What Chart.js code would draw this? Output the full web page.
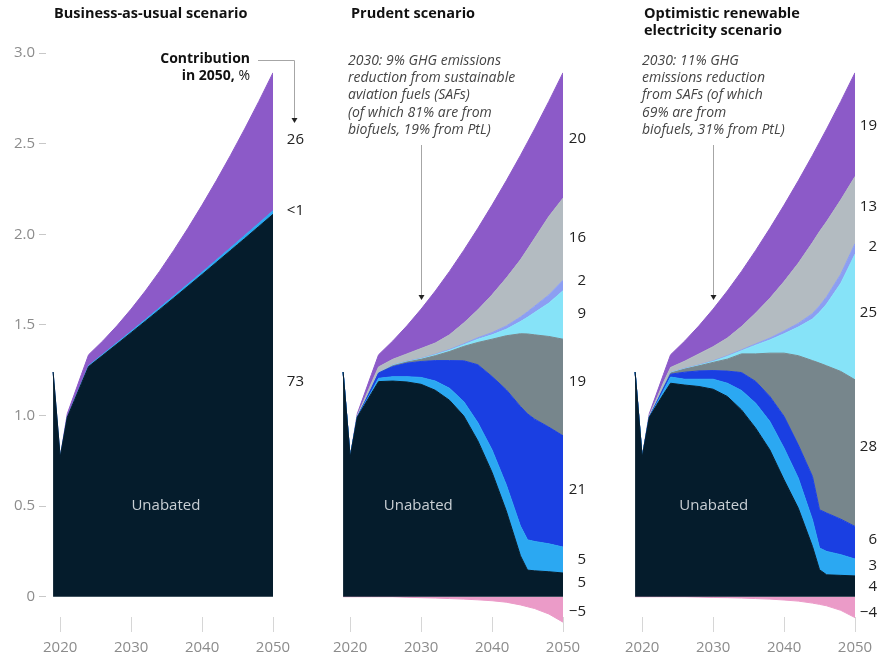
<!DOCTYPE html>
<html>
<head>
<meta charset="utf-8">
<script src="https://cdn.jsdelivr.net/npm/chart.js@4.4.1/dist/chart.umd.min.js"></script>
<style>
  html, body { margin: 0; padding: 0; background: #fff; }
  body { width: 888px; height: 656px; position: relative; overflow: hidden; font-family: "Open Sans", sans-serif; color: #111; }
  canvas { position: absolute; top: 0; }
  .title { position: absolute; top: 4px; font-weight: 700; font-size: 14.5px; line-height: 17px; white-space: nowrap; z-index: 2; }
  .note { position: absolute; top: 51px; font-style: italic; font-size: 14px; line-height: 17.2px; color: #444; white-space: nowrap; z-index: 2; }
  .contrib { position: absolute; top: 49px; right: 638px; text-align: right; font-size: 14px; line-height: 17px; white-space: nowrap; z-index: 2; }
</style>
</head>
<body>
<canvas id="c1" width="310" height="656" style="left:0"></canvas>
<canvas id="c2" width="290" height="656" style="left:310px"></canvas>
<canvas id="c3" width="288" height="656" style="left:600px"></canvas>

<div class="title" style="left:54px">Business-as-usual scenario</div>
<div class="title" style="left:351px">Prudent scenario</div>
<div class="title" style="left:644px">Optimistic renewable<br>electricity scenario</div>
<div class="contrib"><b>Contribution</b><br><b>in 2050,</b> %</div>
<div class="note" style="left:348px">2030: 9% GHG emissions<br>reduction from sustainable<br>aviation fuels (SAFs)<br>(of which 81% are from<br>biofuels, 19% from PtL)</div>
<div class="note" style="left:642px">2030: 11% GHG<br>emissions reduction<br>from SAFs (of which<br>69% are from<br>biofuels, 31% from PtL)</div>

<script>
// years and axis ticks
var years = [2019, 2020, 2021, 2022, 2023, 2024, 2026, 2028, 2030, 2032, 2034, 2036, 2038, 2040, 2042, 2044, 2045, 2046, 2048, 2050];
var xTicks = [2020, 2030, 2040, 2050];
var yTicks = [0, 0.5, 1, 1.5, 2, 2.5, 3];

// business-as-usual, layers bottom to top
var bauUnabated  = [1.24, 0.77, 0.99, 1.083, 1.177, 1.27, 1.332, 1.394, 1.457, 1.52, 1.584, 1.648, 1.713, 1.778, 1.844, 1.91, 1.943, 1.976, 2.043, 2.11];
var bauLightBlue = [0, 0, 0, 0.002, 0.003, 0.005, 0.006, 0.007, 0.008, 0.009, 0.01, 0.011, 0.012, 0.013, 0.014, 0.015, 0.016, 0.017, 0.018, 0.02];
var bauPurple    = [0, 0, 0.02, 0.033, 0.047, 0.06, 0.073, 0.094, 0.122, 0.158, 0.201, 0.252, 0.308, 0.37, 0.437, 0.51, 0.549, 0.588, 0.672, 0.761];
var bauLabels    = ['73', '<1', '26'];

// prudent
var prUnabated   = [1.24, 0.77, 0.99, 1.057, 1.123, 1.187, 1.19, 1.185, 1.172, 1.139, 1.084, 0.998, 0.86, 0.686, 0.474, 0.226, 0.147, 0.143, 0.138, 0.131];
var prLightBlue  = [0, 0, 0, 0.005, 0.01, 0.018, 0.024, 0.029, 0.038, 0.051, 0.066, 0.079, 0.10, 0.124, 0.144, 0.164, 0.167, 0.162, 0.154, 0.143];
var prRoyalBlue  = [0, 0, 0.002, 0.008, 0.017, 0.029, 0.056, 0.075, 0.088, 0.113, 0.153, 0.225, 0.32, 0.405, 0.524, 0.66, 0.695, 0.675, 0.644, 0.614];
var prSlate      = [0, 0, 0, 0, 0, 0, 0.005, 0.006, 0.012, 0.027, 0.05, 0.079, 0.123, 0.206, 0.298, 0.401, 0.441, 0.465, 0.50, 0.533];
var prCyan       = [0, 0, 0, 0, 0, 0.001, 0.002, 0.002, 0.003, 0.005, 0.007, 0.009, 0.018, 0.024, 0.036, 0.067, 0.092, 0.123, 0.184, 0.267];
var prPeriwinkle = [0, 0, 0, 0, 0, 0.001, 0.001, 0.002, 0.002, 0.003, 0.004, 0.005, 0.008, 0.012, 0.018, 0.025, 0.03, 0.035, 0.045, 0.058];
var prGrey       = [0, 0, 0.008, 0.02, 0.03, 0.032, 0.032, 0.041, 0.055, 0.062, 0.081, 0.115, 0.154, 0.209, 0.264, 0.316, 0.346, 0.375, 0.433, 0.453];
var prPurple     = [0, 0, 0.01, 0.028, 0.047, 0.067, 0.101, 0.155, 0.217, 0.287, 0.35, 0.401, 0.45, 0.495, 0.537, 0.576, 0.59, 0.603, 0.635, 0.692];
var prPink       = [0, 0, 0, 0, 0, 0, 0, -0.003, -0.005, -0.007, -0.01, -0.013, -0.017, -0.022, -0.03, -0.045, -0.055, -0.065, -0.095, -0.14];
var prLabels     = ['5', '5', '21', '19', '9', '2', '16', '20', '\u22125'];

// optimistic renewable electricity
var opUnabated   = [1.24, 0.77, 0.99, 1.055, 1.118, 1.178, 1.168, 1.16, 1.145, 1.105, 1.031, 0.93, 0.81, 0.645, 0.489, 0.278, 0.149, 0.121, 0.118, 0.115];
var opLightBlue  = [0, 0, 0, 0.007, 0.019, 0.034, 0.032, 0.04, 0.055, 0.073, 0.107, 0.138, 0.157, 0.175, 0.166, 0.147, 0.12, 0.129, 0.114, 0.093];
var opRoyalBlue  = [0, 0, 0.002, 0.008, 0.013, 0.016, 0.039, 0.046, 0.048, 0.067, 0.099, 0.12, 0.138, 0.175, 0.183, 0.239, 0.211, 0.212, 0.196, 0.18];
var opSlate      = [0, 0, 0, 0, 0.002, 0.006, 0.017, 0.028, 0.045, 0.066, 0.103, 0.152, 0.239, 0.349, 0.492, 0.639, 0.809, 0.812, 0.815, 0.809];
var opCyan       = [0, 0, 0, 0, 0, 0.002, 0.002, 0.003, 0.005, 0.015, 0.017, 0.048, 0.073, 0.107, 0.158, 0.229, 0.281, 0.341, 0.487, 0.693];
var opPeriwinkle = [0, 0, 0, 0, 0, 0.001, 0.002, 0.002, 0.003, 0.004, 0.005, 0.007, 0.01, 0.015, 0.02, 0.03, 0.035, 0.04, 0.05, 0.058];
var opGrey       = [0, 0, 0.008, 0.02, 0.03, 0.028, 0.04, 0.061, 0.079, 0.097, 0.129, 0.17, 0.22, 0.273, 0.332, 0.392, 0.41, 0.415, 0.41, 0.37];
var opPurple     = [0, 0, 0.01, 0.028, 0.045, 0.07, 0.111, 0.155, 0.207, 0.26, 0.304, 0.346, 0.386, 0.422, 0.455, 0.481, 0.493, 0.511, 0.543, 0.573];
var opPink       = [0, 0, 0, 0, 0, 0, 0, -0.002, -0.004, -0.005, -0.007, -0.01, -0.013, -0.018, -0.024, -0.035, -0.042, -0.05, -0.075, -0.115];
var opLabels     = ['4', '3', '6', '28', '25', '2', '13', '19', '\u22124'];

var col = {
  unabated: '#051c2c', lightBlue: '#2ba8f2', royalBlue: '#1a3fe2', slate: '#77868c',
  cyan: '#86e3f8', periwinkle: '#8c9ef2', grey: '#b3bbc1', purple: '#8c5ac8', pink: '#eb9bc8'
};

Chart.defaults.font.family = '"Open Sans", sans-serif';

var panels = [
  { id: 'c1', yAxis: true, pad: { left: 0, right: 37, top: 53, bottom: 0 },
    layers: [[bauUnabated, col.unabated], [bauLightBlue, col.lightBlue], [bauPurple, col.purple]],
    neg: null, labels: bauLabels, nudge: [-24, -2, -2], labelGap: 31, unabatedAt: 2034.9, contrib: true },
  { id: 'c2', yAxis: false, pad: { left: 26, right: 37, top: 53, bottom: 0 },
    layers: [[prUnabated, col.unabated], [prLightBlue, col.lightBlue], [prRoyalBlue, col.royalBlue], [prSlate, col.slate],
             [prCyan, col.cyan], [prPeriwinkle, col.periwinkle], [prGrey, col.grey], [prPurple, col.purple]],
    neg: prPink, labels: prLabels, nudge: [-2, 0, -2, -6, -1, -5, -2, 3, 2], labelGap: 23, unabatedAt: 2029.6, note: true },
  { id: 'c3', yAxis: false, pad: { left: 28, right: 33, top: 53, bottom: 0 },
    layers: [[opUnabated, col.unabated], [opLightBlue, col.lightBlue], [opRoyalBlue, col.royalBlue], [opSlate, col.slate],
             [opCyan, col.cyan], [opPeriwinkle, col.periwinkle], [opGrey, col.grey], [opPurple, col.purple]],
    neg: opPink, labels: opLabels, nudge: [0, -2, -3, -6, -4, -2, -3, 1, 6], labelGap: 22, unabatedAt: 2030.1, note: true }
];

function points(vals) {
  return years.map(function (yr, k) { return { x: yr, y: vals[k] }; });
}

function arrowHead(ctx, x, tipY) {
  ctx.fillStyle = '#222';
  ctx.beginPath();
  ctx.moveTo(x - 3, tipY - 5);
  ctx.lineTo(x + 3, tipY - 5);
  ctx.lineTo(x, tipY);
  ctx.closePath();
  ctx.fill();
}

function decor(p) {
  return {
    id: 'decor',
    afterDatasetsDraw: function (chart) {
      var ctx = chart.ctx, a = chart.chartArea, x = chart.scales.x, y = chart.scales.y;
      ctx.save();
      // x tick marks
      ctx.strokeStyle = '#d6d6d6';
      ctx.lineWidth = 1;
      xTicks.forEach(function (t) {
        var px = Math.round(x.getPixelForValue(t)) + 0.5;
        ctx.beginPath();
        ctx.moveTo(px, a.bottom - 16);
        ctx.lineTo(px, a.bottom - 1);
        ctx.stroke();
      });
      // Unabated label
      ctx.font = '15px "Open Sans"';
      ctx.textAlign = 'center';
      ctx.textBaseline = 'middle';
      ctx.fillStyle = '#c9cfd4';
      ctx.fillText('Unabated', x.getPixelForValue(p.unabatedAt), y.getPixelForValue(0.5));
      // contributions in 2050, beside each layer
      var last = years.length - 1, base = 0;
      ctx.textAlign = 'right';
      ctx.fillStyle = '#222';
      p.layers.forEach(function (l, i) {
        var v = l[0][last];
        ctx.fillText(p.labels[i], a.right + p.labelGap, y.getPixelForValue(base + v / 2) + p.nudge[i]);
        base += v;
      });
      if (p.neg) {
        var n = p.layers.length;
        ctx.fillText(p.labels[n], a.right + p.labelGap, y.getPixelForValue(p.neg[last] / 2) + p.nudge[n]);
      }
      // annotation arrows
      ctx.strokeStyle = '#a6a6a6';
      if (p.note) {
        var ax = Math.round(x.getPixelForValue(2030)) + 0.5;
        ctx.beginPath();
        ctx.moveTo(ax, 145);
        ctx.lineTo(ax, 296);
        ctx.stroke();
        arrowHead(ctx, ax, 300);
      }
      if (p.contrib) {
        var cx = a.right + 21.5;
        ctx.beginPath();
        ctx.moveTo(258, 60.5);
        ctx.lineTo(cx, 60.5);
        ctx.lineTo(cx, 119);
        ctx.stroke();
        arrowHead(ctx, cx, 123);
      }
      ctx.restore();
    }
  };
}

panels.forEach(function (p) {
  var datasets = p.layers.map(function (l, i) {
    return {
      data: points(l[0]),
      backgroundColor: l[1],
      borderColor: l[1],
      borderWidth: 1,
      pointRadius: 0,
      tension: 0,
      fill: i === 0 ? 'origin' : '-1'
    };
  });
  if (p.neg) {
    datasets.push({
      data: points(p.neg),
      stack: 'neg',
      backgroundColor: col.pink,
      borderColor: col.pink,
      borderWidth: 1,
      pointRadius: 0,
      tension: 0,
      fill: 'origin'
    });
  }

  new Chart(document.getElementById(p.id), {
    type: 'line',
    data: { datasets: datasets },
    options: {
      responsive: false,
      animation: false,
      events: [],
      layout: { padding: p.pad },
      plugins: { legend: { display: false }, tooltip: { enabled: false } },
      scales: {
        x: {
          type: 'linear', min: 2018, max: 2050,
          afterBuildTicks: function (s) { s.ticks = xTicks.map(function (v) { return { value: v }; }); },
          afterFit: function (s) { s.height = 23; },
          border: { display: false },
          grid: { display: false, drawTicks: false },
          ticks: { padding: 6, color: '#8c8c8c', font: { size: 15 }, maxRotation: 0, autoSkip: false,
                   callback: function (v) { return String(v); } }
        },
        y: {
          stacked: true, min: -0.2, max: 3, display: p.yAxis,
          afterBuildTicks: function (s) { s.ticks = yTicks.map(function (v) { return { value: v }; }); },
          afterFit: function (s) { if (p.yAxis) s.width = 46; },
          border: { display: false },
          grid: { drawOnChartArea: false, drawTicks: true, tickLength: 7, color: '#c8c8c8' },
          ticks: { padding: 4, color: '#8c8c8c', font: { size: 15 },
                   callback: function (v) { return v === 0 ? '0' : v.toFixed(1); } }
        }
      }
    },
    plugins: [decor(p)]
  });
});
</script>
</body>
</html>
